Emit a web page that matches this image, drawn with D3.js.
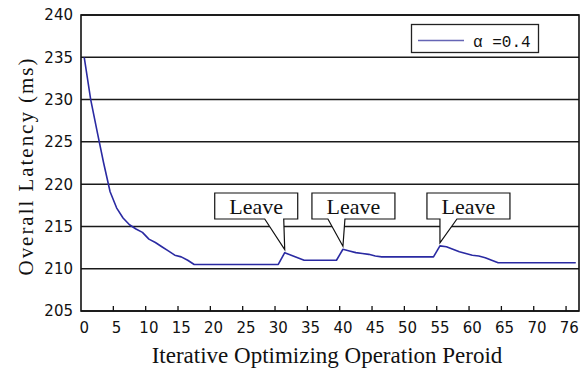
<!DOCTYPE html>
<html>
<head>
<meta charset="utf-8">
<script src="https://cdn.jsdelivr.net/npm/d3@7"></script>
<style>
  html, body { margin: 0; padding: 0; background: #fff; }
  svg { display: block; }
</style>
</head>
<body>
<div id="chart"></div>
<script>
// latency per optimizing period (vertices of the polyline)
const periods = [0, 1, 2, 3, 4, 5, 6, 7, 8, 9, 10, 11, 12, 13, 14, 15, 16, 17, 30, 31, 32, 33, 34, 39, 40, 41, 42, 43, 44, 45, 46, 54, 55, 56, 57, 58, 59, 60, 61, 62, 63, 64, 76];
const latency = [235.0, 230.0, 226.2, 222.5, 219.1, 217.2, 216.0, 215.2, 214.7, 214.3, 213.5, 213.1, 212.6, 212.1, 211.6, 211.4, 211.0, 210.5, 210.5, 211.9, 211.6, 211.3, 211.0, 211.0, 212.3, 212.1, 211.9, 211.8, 211.7, 211.5, 211.4, 211.4, 212.7, 212.6, 212.3, 212.0, 211.8, 211.6, 211.5, 211.3, 211.0, 210.7, 210.7];

// "Leave" events
const leavePeriods = [31, 40, 55];
const leaveLabel = 'Leave';

// axis ticks
const yTicks = [205, 210, 215, 220, 225, 230, 235, 240];
const xLabelPeriods = [0, 5, 10, 15, 20, 25, 30, 35, 40, 45, 50, 55, 60, 65, 70, 75];
const xLabelText = ['0', '5', '10', '15', '20', '25', '30', '35', '40', '45', '50', '55', '60', '65', '70', '76'];
const seriesName = 'α =0.4';

(function () {
  const W = 581, H = 370;
  const left = 81, right = 579, top = 15, bottom = 311;

  const svg = d3.select('#chart').append('svg').attr('width', W).attr('height', H);

  // categories are centred, boundaries sit at half steps
  const x = d3.scaleLinear().domain([-0.5, 76.5]).range([left, right]);
  const y = d3.scaleLinear().domain([205, 240]).range([bottom, top]);

  // horizontal grid
  svg.append('g').selectAll('line').data(yTicks).join('line')
    .attr('x1', left).attr('x2', right)
    .attr('y1', d => y(d)).attr('y2', d => y(d))
    .attr('stroke', '#1a1a1a').attr('stroke-width', 1.5);

  // frame
  svg.append('rect').attr('x', left).attr('y', top).attr('width', right - left).attr('height', bottom - top)
    .attr('fill', 'none').attr('stroke', '#111').attr('stroke-width', 1.6);

  // x tick marks at category boundaries, pointing into the plot
  const tickBounds = xLabelPeriods.slice(1).map(p => p - 0.5);
  svg.append('g').selectAll('line').data(tickBounds).join('line')
    .attr('x1', d => x(d)).attr('x2', d => x(d))
    .attr('y1', bottom).attr('y2', bottom - 5)
    .attr('stroke', '#111').attr('stroke-width', 1.3);

  // y tick labels
  svg.append('g').selectAll('text').data(yTicks).join('text')
    .attr('x', 73).attr('y', d => y(d)).attr('dy', '0.36em')
    .attr('text-anchor', 'end')
    .style('font-family', '"DejaVu Sans", sans-serif').style('font-size', '15px').attr('fill', '#111')
    .text(d => d);

  // x tick labels
  svg.append('g').selectAll('text').data(xLabelPeriods).join('text')
    .attr('x', d => x(d)).attr('y', 328).attr('dy', '0.36em')
    .attr('text-anchor', 'middle')
    .style('font-family', '"DejaVu Sans", sans-serif').style('font-size', '15px').attr('fill', '#111')
    .text((d, i) => xLabelText[i]);

  // axis titles
  svg.append('text')
    .attr('transform', 'translate(33,167) rotate(-90)')
    .attr('text-anchor', 'middle')
    .attr('textLength', 217).attr('lengthAdjust', 'spacing')
    .style('font-family', '"Liberation Serif", serif').style('font-size', '21px').attr('fill', '#111')
    .text('Overall Latency (ms)');

  svg.append('text')
    .attr('x', 327).attr('y', 363)
    .attr('text-anchor', 'middle')
    .style('font-family', '"Liberation Serif", serif').style('font-size', '23px').attr('fill', '#111')
    .text('Iterative Optimizing Operation Peroid');

  // the series
  const pts = periods.map((p, i) => [p, latency[i]]);
  const line = d3.line().x(d => x(d[0])).y(d => y(d[1]));
  svg.append('path').datum(pts)
    .attr('d', line)
    .attr('fill', 'none').attr('stroke', '#2a2aa2').attr('stroke-width', 1.6)
    .attr('stroke-linejoin', 'round');

  // callouts: box offsets and tail base offsets relative to the point
  const boxLeft = [-70, -31, -13], boxW = 83, boxTop = 193, boxBottom = 219;
  const tailBase = [[-20, -1], [-15, 2], [0, 17]];
  const callouts = svg.append('g');
  leavePeriods.forEach((p, i) => {
    const v = latency[periods.indexOf(p)];
    const px = x(p), tipY = y(v) - 3;
    const bx0 = px + boxLeft[i], bx1 = bx0 + boxW;
    const path = d3.path();
    path.moveTo(bx0, boxTop);
    path.lineTo(bx1, boxTop);
    path.lineTo(bx1, boxBottom);
    path.lineTo(px + tailBase[i][1], boxBottom);
    path.lineTo(px, tipY);
    path.lineTo(px + tailBase[i][0], boxBottom);
    path.lineTo(bx0, boxBottom);
    path.closePath();
    callouts.append('path').attr('d', path.toString())
      .attr('fill', '#fff').attr('stroke', '#111').attr('stroke-width', 1.2).attr('stroke-linejoin', 'miter');
    callouts.append('text')
      .attr('x', (bx0 + bx1) / 2).attr('y', boxTop + 20.5)
      .attr('text-anchor', 'middle')
      .style('font-family', '"Liberation Serif", serif').style('font-size', '22px').attr('fill', '#111')
      .text(leaveLabel);
  });

  // legend
  const lg = svg.append('g');
  lg.append('rect').attr('x', 411.5).attr('y', 24.5).attr('width', 127).attr('height', 28)
    .attr('fill', '#fff').attr('stroke', '#222').attr('stroke-width', 1.3);
  lg.append('line').attr('x1', 418).attr('x2', 464).attr('y1', 40.5).attr('y2', 40.5)
    .attr('stroke', '#6565b5').attr('stroke-width', 1.5);
  lg.append('text').attr('x', 473).attr('y', 46.5)
    .style('font-family', '"Liberation Mono", monospace').style('font-size', '16px').attr('fill', '#111')
    .text(seriesName);
})();
</script>
</body>
</html>
